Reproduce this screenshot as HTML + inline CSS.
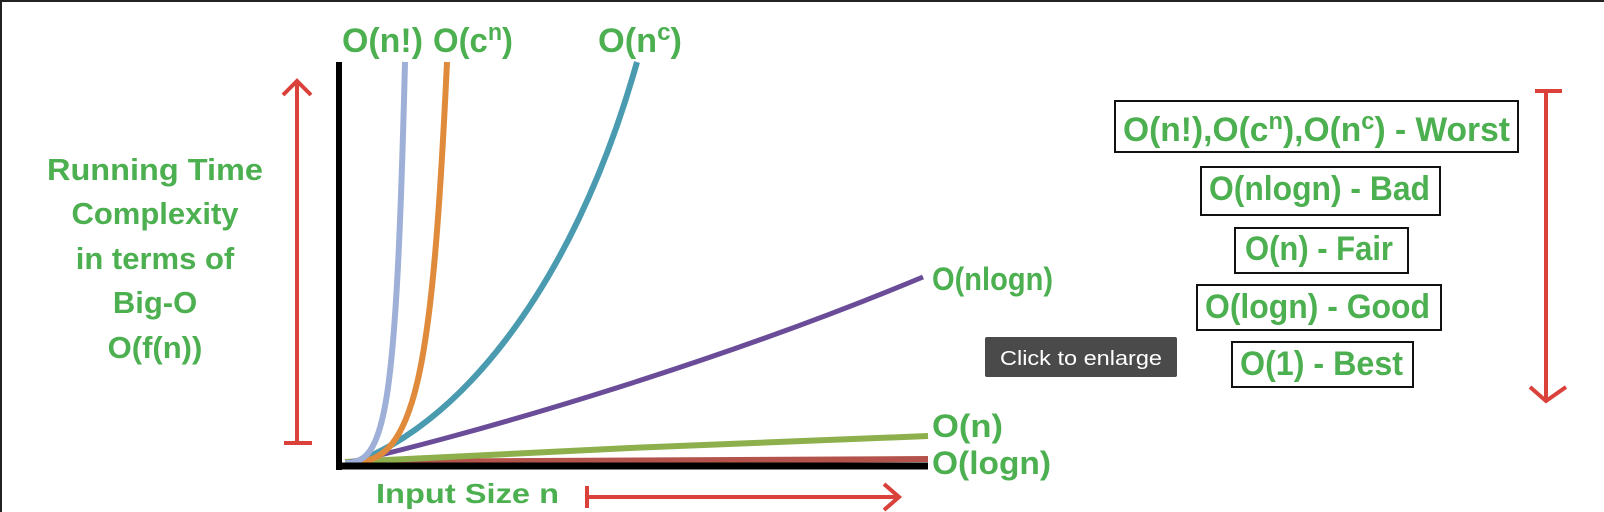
<!DOCTYPE html>
<html><head><meta charset="utf-8"><style>
html,body{margin:0;padding:0;background:#fff;}
svg{display:block;}
text{font-family:"Liberation Sans",sans-serif;font-weight:bold;fill:#4caf50;}
</style></head><body>
<svg width="1604" height="512" viewBox="0 0 1604 512" xmlns="http://www.w3.org/2000/svg">
<rect x="0" y="0" width="1604" height="512" fill="#fff"/>
<line x1="0" y1="1" x2="1604" y2="1" stroke="#222" stroke-width="2"/>
<line x1="1" y1="0" x2="1" y2="512" stroke="#222" stroke-width="2"/>

<!-- curves -->
<polyline fill="none" stroke="#b4534b" stroke-width="6" points="345,462 928,459"/>
<polyline fill="none" stroke="#8db04c" stroke-width="6" points="345,462 630,448 928,436"/>
<path fill="none" stroke="#6a4c98" stroke-width="5" d="M350,462 C450,440 700,370 923,277"/>
<path fill="none" stroke="#4a9bb0" stroke-width="6" d="M352,463 C450,430 570,300 637,62"/>
<path fill="none" stroke="#e08a3c" stroke-width="6" d="M352,463 C415,462 432,380 447,62"/>
<path fill="none" stroke="#9eb0d8" stroke-width="6" d="M345,463 C385,463 396,420 405,62"/>

<!-- axes -->
<line x1="339" y1="62" x2="339" y2="470" stroke="#000" stroke-width="6"/>
<line x1="336" y1="466" x2="928" y2="466" stroke="#000" stroke-width="7"/>

<g stroke="#d9413a" stroke-width="4" fill="none">
<line x1="297" y1="80" x2="297" y2="443"/>
<line x1="284" y1="443" x2="312" y2="443"/>
<polyline points="283,95 297,81 311,95"/>
<line x1="587" y1="497" x2="898" y2="497"/>
<line x1="587" y1="486" x2="587" y2="508"/>
<polyline points="884,484 899,497 884,510"/>
<line x1="1546" y1="91" x2="1546" y2="401"/>
<line x1="1535" y1="91" x2="1562" y2="91"/>
<polyline points="1530,387 1546,401 1566,387"/>
</g>

<g font-size="31" text-anchor="middle">
<text x="155" y="180" textLength="216" lengthAdjust="spacingAndGlyphs">Running Time</text>
<text x="155" y="224">Complexity</text>
<text x="155" y="269">in terms of</text>
<text x="155" y="313">Big-O</text>
<text x="155" y="358">O(f(n))</text>
</g>

<text x="342" y="52" font-size="34" textLength="81" lengthAdjust="spacingAndGlyphs">O(n!)</text>
<text x="433" y="52" font-size="34" textLength="80" lengthAdjust="spacingAndGlyphs">O(c<tspan font-size="24" dy="-12">n</tspan><tspan dy="12">)</tspan></text>
<text x="598" y="52" font-size="34" textLength="84" lengthAdjust="spacingAndGlyphs">O(n<tspan font-size="24" dy="-12">c</tspan><tspan dy="12">)</tspan></text>

<text x="932" y="290" font-size="32" textLength="121" lengthAdjust="spacingAndGlyphs">O(nlogn)</text>
<text x="932" y="437" font-size="32" textLength="71" lengthAdjust="spacingAndGlyphs">O(n)</text>
<text x="932" y="474" font-size="32" textLength="119" lengthAdjust="spacingAndGlyphs">O(logn)</text>
<text x="376" y="503" font-size="28" textLength="183" lengthAdjust="spacingAndGlyphs">Input Size n</text>

<rect x="985" y="337" width="192" height="40" fill="#4a4a4a" rx="2"/>
<text x="1000" y="365" font-size="20" textLength="162" lengthAdjust="spacingAndGlyphs" style="font-weight:normal;fill:#fff">Click to enlarge</text>

<g fill="none" stroke="#111" stroke-width="2">
<rect x="1115" y="101" width="403" height="51"/>
<rect x="1201" y="167" width="239" height="48"/>
<rect x="1235" y="228" width="173" height="45"/>
<rect x="1197" y="285" width="244" height="45"/>
<rect x="1232" y="342" width="181" height="45"/>
</g>
<text x="1123" y="141" font-size="34" textLength="387" lengthAdjust="spacingAndGlyphs">O(n!),O(c<tspan font-size="24" dy="-12">n</tspan><tspan dy="12">),O(n</tspan><tspan font-size="24" dy="-12">c</tspan><tspan dy="12">) - Worst</tspan></text>
<text x="1209" y="200" font-size="34" textLength="221" lengthAdjust="spacingAndGlyphs">O(nlogn) - Bad</text>
<text x="1245" y="260" font-size="34" textLength="148" lengthAdjust="spacingAndGlyphs">O(n) - Fair</text>
<text x="1205" y="318" font-size="34" textLength="225" lengthAdjust="spacingAndGlyphs">O(logn) - Good</text>
<text x="1240" y="375" font-size="34" textLength="163" lengthAdjust="spacingAndGlyphs">O(1) - Best</text>
</svg>
</body></html>
